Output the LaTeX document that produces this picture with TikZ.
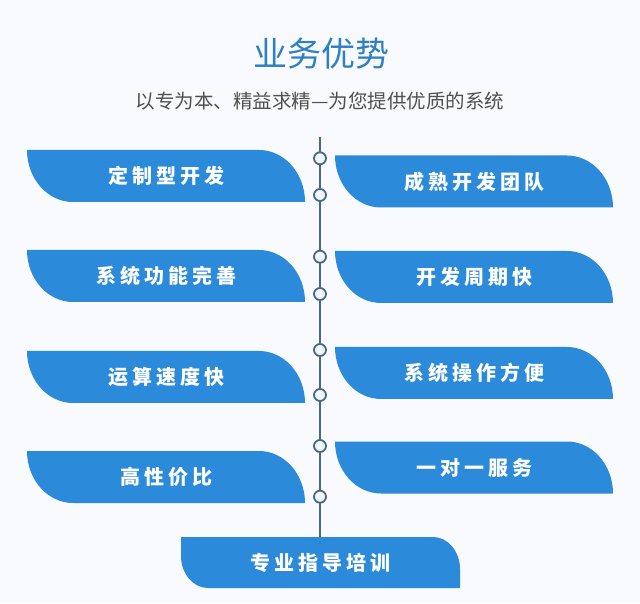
\documentclass[tikz,border=0pt]{standalone}
\usepackage{fontspec}
\usepackage{tikz}
\usetikzlibrary{positioning}
\newfontfamily\cjk{Noto Sans CJK SC}
\newfontfamily\boxfont[LetterSpace=20]{Noto Sans CJK SC}
\definecolor{pagebg}{RGB}{248,250,253}
\definecolor{boxblue}{RGB}{44,138,218}
\definecolor{titleblue}{RGB}{45,128,196}
\definecolor{subgray}{RGB}{80,80,80}
\definecolor{spinecol}{RGB}{74,104,130}
\definecolor{dotfill}{RGB}{240,246,252}

\tikzset{
  leaf/.style args={#1/#2}{minimum width=278, minimum height=52, inner sep=0pt,
    text=white, font=\boxfont\bfseries\fontsize{20}{22}\selectfont,
    path picture={\fill[boxblue] (path picture bounding box.north west)
      -- ([xshift=-#1]path picture bounding box.north east)
      arc[start angle=90, end angle=0, x radius=#1, y radius=#2]
      -- (path picture bounding box.south east)
      -- ([xshift=#1]path picture bounding box.south west)
      arc[start angle=270, end angle=180, x radius=#1, y radius=#2]
      -- cycle;}},
  dot/.style={circle, draw=spinecol, fill=dotfill, line width=1.8pt, minimum size=12, inner sep=0pt},
  spine/.style={draw=spinecol, line width=2.4pt}
}

\begin{document}
\begin{tikzpicture}[x=1pt, y=1pt]
  % page
  \fill[pagebg] (0,0) rectangle (640,603);
  \useasboundingbox (0,0) rectangle (640,603);

  % heading
  \node[font=\cjk\fontsize{34}{38}\selectfont, text=titleblue] (title) at (321,549) {业务优势};
  \node[font=\cjk\fontsize{19.5}{22}\selectfont, text=subgray] (subtitle) at (320,501.5) {以专为本、精益求精—为您提供优质的系统};

  % left column
  \node[leaf=46/52] (l1) at (166,427) {定制型开发};
  \node[leaf=46/52] (l2) at (166,327) {系统功能完善};
  \node[leaf=46/52] (l3) at (166,226) {运算速度快};
  \node[leaf=46/52] (l4) at (166,126) {高性价比};

  % right column
  \node[leaf=46/52] (r1) at (474,421.5) {成熟开发团队};
  \node[leaf=46/52] (r2) at (474,326) {开发周期快};
  \node[leaf=46/52] (r3) at (474,230) {系统操作方便};
  \node[leaf=46/52] (r4) at (474,135.5) {一对一服务};

  % bottom box
  \node[leaf=27/32, minimum width=279, minimum height=51] (train) at (320.5,40.5) {专业指导培训};

  % timeline
  \coordinate (top) at (320,466);
  \draw[spine] (top) -- (train.north -| top);

  \node[dot] (c1) at (320,444.7) {};
  \node[dot] (c2) at (320,408) {};
  \node[dot] (c3) at (320,346.3) {};
  \node[dot] (c4) at (320,309) {};
  \node[dot] (c5) at (320,253) {};
  \node[dot] (c6) at (320,208) {};
  \node[dot] (c7) at (320,157) {};
  \node[dot] (c8) at (320,106.3) {};
\end{tikzpicture}
\end{document}
